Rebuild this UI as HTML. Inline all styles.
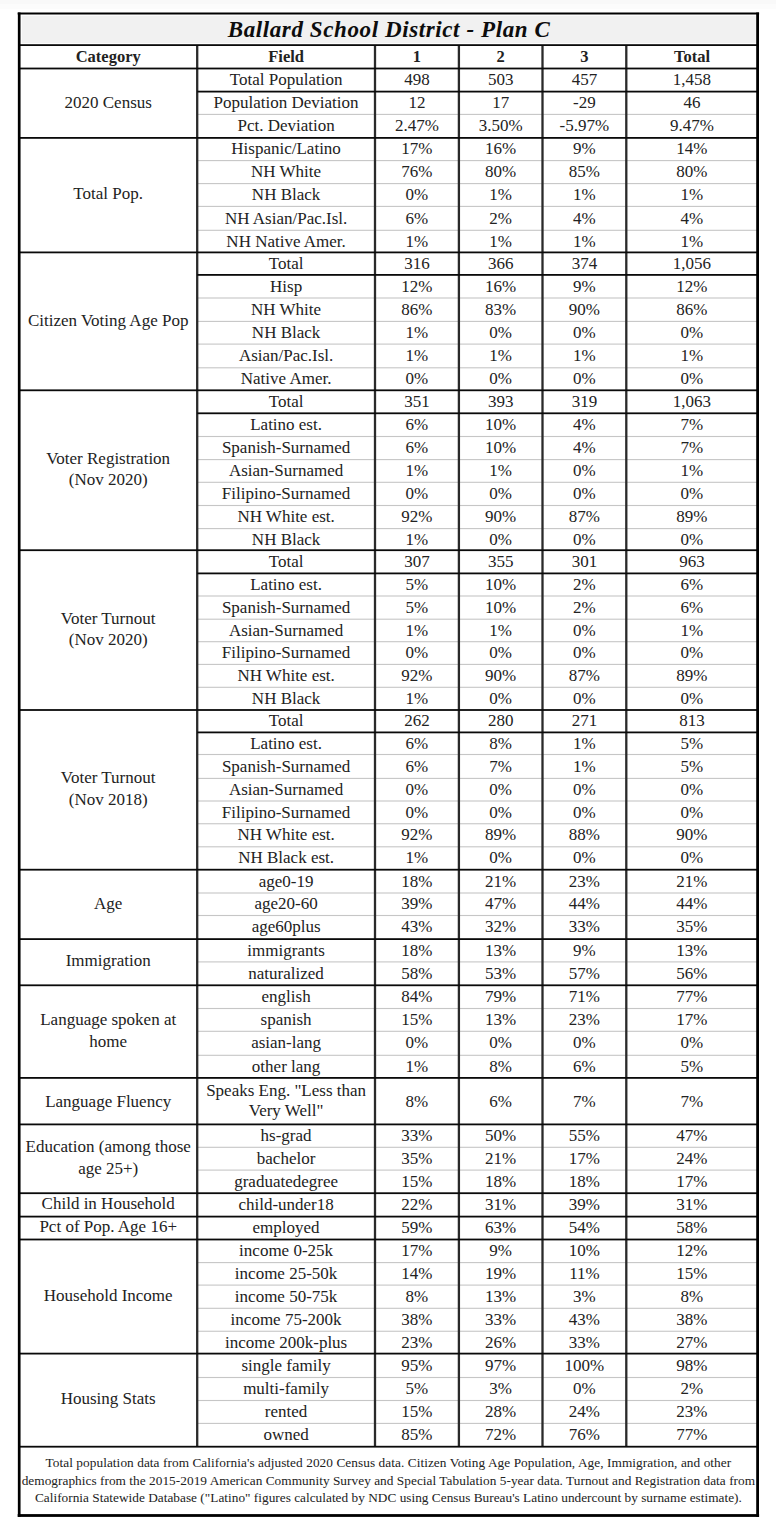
<!DOCTYPE html>
<html><head><meta charset="utf-8"><title>Ballard School District - Plan C</title>
<style>
html,body{margin:0;padding:0;background:#fff;}
body{width:776px;height:1536px;position:relative;overflow:hidden;font-family:"Liberation Serif",serif;color:#222;}
svg{position:absolute;left:0;top:0;}
.t{position:absolute;text-align:center;white-space:nowrap;font-size:17px;line-height:21px;height:21px;}
.t.b{font-weight:bold;font-size:16.5px;}
.t.f{font-size:13.3px;line-height:17px;height:17px;}
.title{position:absolute;left:0;width:777px;text-align:center;top:16px;height:27px;font-size:23px;line-height:27px;letter-spacing:0.6px;padding-left:0.6px;font-weight:bold;font-style:italic;white-space:nowrap;color:#0d0d0d;}
</style></head>
<body>
<svg width="776" height="1536" viewBox="0 0 776 1536">
<rect x="0" y="0" width="776" height="4" fill="#f9f9f9"/>
<rect x="0" y="4" width="776" height="5" fill="#fcfcfc"/>
<rect x="21.8" y="15.8" width="734.0" height="27.4" fill="#f1f1f1"/>
<rect x="197.20" y="113.85" width="560.40" height="1.1" fill="#c6c6c6"/>
<rect x="197.20" y="160.05" width="560.40" height="1.1" fill="#c6c6c6"/>
<rect x="197.20" y="183.05" width="560.40" height="1.1" fill="#c6c6c6"/>
<rect x="197.20" y="205.85" width="560.40" height="1.1" fill="#c6c6c6"/>
<rect x="197.20" y="229.75" width="560.40" height="1.1" fill="#c6c6c6"/>
<rect x="197.20" y="297.45" width="560.40" height="1.1" fill="#c6c6c6"/>
<rect x="197.20" y="320.85" width="560.40" height="1.1" fill="#c6c6c6"/>
<rect x="197.20" y="343.55" width="560.40" height="1.1" fill="#c6c6c6"/>
<rect x="197.20" y="367.25" width="560.40" height="1.1" fill="#c6c6c6"/>
<rect x="197.20" y="435.95" width="560.40" height="1.1" fill="#c6c6c6"/>
<rect x="197.20" y="459.05" width="560.40" height="1.1" fill="#c6c6c6"/>
<rect x="197.20" y="481.75" width="560.40" height="1.1" fill="#c6c6c6"/>
<rect x="197.20" y="504.95" width="560.40" height="1.1" fill="#c6c6c6"/>
<rect x="197.20" y="528.05" width="560.40" height="1.1" fill="#c6c6c6"/>
<rect x="197.20" y="595.45" width="560.40" height="1.1" fill="#c6c6c6"/>
<rect x="197.20" y="618.65" width="560.40" height="1.1" fill="#c6c6c6"/>
<rect x="197.20" y="641.15" width="560.40" height="1.1" fill="#c6c6c6"/>
<rect x="197.20" y="663.85" width="560.40" height="1.1" fill="#c6c6c6"/>
<rect x="197.20" y="686.75" width="560.40" height="1.1" fill="#c6c6c6"/>
<rect x="197.20" y="753.95" width="560.40" height="1.1" fill="#c6c6c6"/>
<rect x="197.20" y="777.85" width="560.40" height="1.1" fill="#c6c6c6"/>
<rect x="197.20" y="800.45" width="560.40" height="1.1" fill="#c6c6c6"/>
<rect x="197.20" y="823.20" width="560.40" height="1.1" fill="#c6c6c6"/>
<rect x="197.20" y="846.25" width="560.40" height="1.1" fill="#c6c6c6"/>
<rect x="197.20" y="892.45" width="560.40" height="1.1" fill="#c6c6c6"/>
<rect x="197.20" y="914.95" width="560.40" height="1.1" fill="#c6c6c6"/>
<rect x="197.20" y="961.35" width="560.40" height="1.1" fill="#c6c6c6"/>
<rect x="197.20" y="1007.95" width="560.40" height="1.1" fill="#c6c6c6"/>
<rect x="197.20" y="1030.75" width="560.40" height="1.1" fill="#c6c6c6"/>
<rect x="197.20" y="1054.75" width="560.40" height="1.1" fill="#c6c6c6"/>
<rect x="197.20" y="1146.75" width="560.40" height="1.1" fill="#c6c6c6"/>
<rect x="197.20" y="1169.55" width="560.40" height="1.1" fill="#c6c6c6"/>
<rect x="197.20" y="1262.05" width="560.40" height="1.1" fill="#c6c6c6"/>
<rect x="197.20" y="1284.55" width="560.40" height="1.1" fill="#c6c6c6"/>
<rect x="197.20" y="1307.75" width="560.40" height="1.1" fill="#c6c6c6"/>
<rect x="197.20" y="1330.70" width="560.40" height="1.1" fill="#c6c6c6"/>
<rect x="197.20" y="1376.95" width="560.40" height="1.1" fill="#c6c6c6"/>
<rect x="197.20" y="1399.95" width="560.40" height="1.1" fill="#c6c6c6"/>
<rect x="197.20" y="1422.85" width="560.40" height="1.1" fill="#c6c6c6"/>
<rect x="196.05" y="45.10" width="2.3" height="1401.60" fill="#2a2a2a"/>
<rect x="373.85" y="45.10" width="2.3" height="1401.60" fill="#2a2a2a"/>
<rect x="457.75" y="45.10" width="2.3" height="1401.60" fill="#2a2a2a"/>
<rect x="541.35" y="45.10" width="2.3" height="1401.60" fill="#2a2a2a"/>
<rect x="625.15" y="45.10" width="2.3" height="1401.60" fill="#2a2a2a"/>
<rect x="19.20" y="44.20" width="738.40" height="1.8" fill="#0a0a0a"/>
<rect x="19.20" y="67.60" width="738.40" height="1.8" fill="#0a0a0a"/>
<rect x="197.20" y="90.70" width="560.40" height="1.8" fill="#0a0a0a"/>
<rect x="19.20" y="137.00" width="738.40" height="1.8" fill="#0a0a0a"/>
<rect x="19.20" y="251.50" width="738.40" height="1.8" fill="#0a0a0a"/>
<rect x="197.20" y="274.00" width="560.40" height="1.8" fill="#0a0a0a"/>
<rect x="19.20" y="389.40" width="738.40" height="1.8" fill="#0a0a0a"/>
<rect x="197.20" y="412.40" width="560.40" height="1.8" fill="#0a0a0a"/>
<rect x="19.20" y="549.30" width="738.40" height="1.8" fill="#0a0a0a"/>
<rect x="197.20" y="572.50" width="560.40" height="1.8" fill="#0a0a0a"/>
<rect x="19.20" y="709.10" width="738.40" height="1.8" fill="#0a0a0a"/>
<rect x="197.20" y="731.50" width="560.40" height="1.8" fill="#0a0a0a"/>
<rect x="19.20" y="868.80" width="738.40" height="1.8" fill="#0a0a0a"/>
<rect x="19.20" y="938.20" width="738.40" height="1.8" fill="#0a0a0a"/>
<rect x="19.20" y="984.40" width="738.40" height="1.8" fill="#0a0a0a"/>
<rect x="19.20" y="1077.00" width="738.40" height="1.8" fill="#0a0a0a"/>
<rect x="19.20" y="1123.50" width="738.40" height="1.8" fill="#0a0a0a"/>
<rect x="19.20" y="1192.30" width="738.40" height="1.8" fill="#0a0a0a"/>
<rect x="19.20" y="1215.70" width="738.40" height="1.8" fill="#0a0a0a"/>
<rect x="19.20" y="1238.60" width="738.40" height="1.8" fill="#0a0a0a"/>
<rect x="19.20" y="1352.70" width="738.40" height="1.8" fill="#0a0a0a"/>
<rect x="19.20" y="1445.80" width="738.40" height="1.8" fill="#0a0a0a"/>
<rect x="17.70" y="12.50" width="741.40" height="2.0" fill="#000"/>
<rect x="17.70" y="1514.10" width="741.40" height="2.8" fill="#000"/>
<rect x="17.85" y="12.50" width="2.7" height="1504.40" fill="#000"/>
<rect x="756.20" y="12.50" width="2.8" height="1504.40" fill="#000"/>
</svg>
<div class="t" style="left:186.10px;top:69px;width:200px">Total Population</div>
<div class="t" style="left:316.95px;top:69px;width:200px">498</div>
<div class="t" style="left:400.70px;top:69px;width:200px">503</div>
<div class="t" style="left:484.40px;top:69px;width:200px">457</div>
<div class="t" style="left:591.95px;top:69px;width:200px">1,458</div>
<div class="t" style="left:186.10px;top:92px;width:200px">Population Deviation</div>
<div class="t" style="left:316.95px;top:92px;width:200px">12</div>
<div class="t" style="left:400.70px;top:92px;width:200px">17</div>
<div class="t" style="left:484.40px;top:92px;width:200px">-29</div>
<div class="t" style="left:591.95px;top:92px;width:200px">46</div>
<div class="t" style="left:186.10px;top:115px;width:200px">Pct. Deviation</div>
<div class="t" style="left:316.95px;top:115px;width:200px">2.47%</div>
<div class="t" style="left:400.70px;top:115px;width:200px">3.50%</div>
<div class="t" style="left:484.40px;top:115px;width:200px">-5.97%</div>
<div class="t" style="left:591.95px;top:115px;width:200px">9.47%</div>
<div class="t" style="left:8.20px;top:92px;width:200px">2020 Census</div>
<div class="t" style="left:186.10px;top:138px;width:200px">Hispanic/Latino</div>
<div class="t" style="left:316.95px;top:138px;width:200px">17%</div>
<div class="t" style="left:400.70px;top:138px;width:200px">16%</div>
<div class="t" style="left:484.40px;top:138px;width:200px">9%</div>
<div class="t" style="left:591.95px;top:138px;width:200px">14%</div>
<div class="t" style="left:186.10px;top:161px;width:200px">NH White</div>
<div class="t" style="left:316.95px;top:161px;width:200px">76%</div>
<div class="t" style="left:400.70px;top:161px;width:200px">80%</div>
<div class="t" style="left:484.40px;top:161px;width:200px">85%</div>
<div class="t" style="left:591.95px;top:161px;width:200px">80%</div>
<div class="t" style="left:186.10px;top:184px;width:200px">NH Black</div>
<div class="t" style="left:316.95px;top:184px;width:200px">0%</div>
<div class="t" style="left:400.70px;top:184px;width:200px">1%</div>
<div class="t" style="left:484.40px;top:184px;width:200px">1%</div>
<div class="t" style="left:591.95px;top:184px;width:200px">1%</div>
<div class="t" style="left:186.10px;top:208px;width:200px">NH Asian/Pac.Isl.</div>
<div class="t" style="left:316.95px;top:208px;width:200px">6%</div>
<div class="t" style="left:400.70px;top:208px;width:200px">2%</div>
<div class="t" style="left:484.40px;top:208px;width:200px">4%</div>
<div class="t" style="left:591.95px;top:208px;width:200px">4%</div>
<div class="t" style="left:186.10px;top:231px;width:200px">NH Native Amer.</div>
<div class="t" style="left:316.95px;top:231px;width:200px">1%</div>
<div class="t" style="left:400.70px;top:231px;width:200px">1%</div>
<div class="t" style="left:484.40px;top:231px;width:200px">1%</div>
<div class="t" style="left:591.95px;top:231px;width:200px">1%</div>
<div class="t" style="left:8.20px;top:183px;width:200px">Total Pop.</div>
<div class="t" style="left:186.10px;top:253px;width:200px">Total</div>
<div class="t" style="left:316.95px;top:253px;width:200px">316</div>
<div class="t" style="left:400.70px;top:253px;width:200px">366</div>
<div class="t" style="left:484.40px;top:253px;width:200px">374</div>
<div class="t" style="left:591.95px;top:253px;width:200px">1,056</div>
<div class="t" style="left:186.10px;top:276px;width:200px">Hisp</div>
<div class="t" style="left:316.95px;top:276px;width:200px">12%</div>
<div class="t" style="left:400.70px;top:276px;width:200px">16%</div>
<div class="t" style="left:484.40px;top:276px;width:200px">9%</div>
<div class="t" style="left:591.95px;top:276px;width:200px">12%</div>
<div class="t" style="left:186.10px;top:299px;width:200px">NH White</div>
<div class="t" style="left:316.95px;top:299px;width:200px">86%</div>
<div class="t" style="left:400.70px;top:299px;width:200px">83%</div>
<div class="t" style="left:484.40px;top:299px;width:200px">90%</div>
<div class="t" style="left:591.95px;top:299px;width:200px">86%</div>
<div class="t" style="left:186.10px;top:322px;width:200px">NH Black</div>
<div class="t" style="left:316.95px;top:322px;width:200px">1%</div>
<div class="t" style="left:400.70px;top:322px;width:200px">0%</div>
<div class="t" style="left:484.40px;top:322px;width:200px">0%</div>
<div class="t" style="left:591.95px;top:322px;width:200px">0%</div>
<div class="t" style="left:186.10px;top:345px;width:200px">Asian/Pac.Isl.</div>
<div class="t" style="left:316.95px;top:345px;width:200px">1%</div>
<div class="t" style="left:400.70px;top:345px;width:200px">1%</div>
<div class="t" style="left:484.40px;top:345px;width:200px">1%</div>
<div class="t" style="left:591.95px;top:345px;width:200px">1%</div>
<div class="t" style="left:186.10px;top:368px;width:200px">Native Amer.</div>
<div class="t" style="left:316.95px;top:368px;width:200px">0%</div>
<div class="t" style="left:400.70px;top:368px;width:200px">0%</div>
<div class="t" style="left:484.40px;top:368px;width:200px">0%</div>
<div class="t" style="left:591.95px;top:368px;width:200px">0%</div>
<div class="t" style="left:8.20px;top:310px;width:200px">Citizen Voting Age Pop</div>
<div class="t" style="left:186.10px;top:391px;width:200px">Total</div>
<div class="t" style="left:316.95px;top:391px;width:200px">351</div>
<div class="t" style="left:400.70px;top:391px;width:200px">393</div>
<div class="t" style="left:484.40px;top:391px;width:200px">319</div>
<div class="t" style="left:591.95px;top:391px;width:200px">1,063</div>
<div class="t" style="left:186.10px;top:414px;width:200px">Latino est.</div>
<div class="t" style="left:316.95px;top:414px;width:200px">6%</div>
<div class="t" style="left:400.70px;top:414px;width:200px">10%</div>
<div class="t" style="left:484.40px;top:414px;width:200px">4%</div>
<div class="t" style="left:591.95px;top:414px;width:200px">7%</div>
<div class="t" style="left:186.10px;top:437px;width:200px">Spanish-Surnamed</div>
<div class="t" style="left:316.95px;top:437px;width:200px">6%</div>
<div class="t" style="left:400.70px;top:437px;width:200px">10%</div>
<div class="t" style="left:484.40px;top:437px;width:200px">4%</div>
<div class="t" style="left:591.95px;top:437px;width:200px">7%</div>
<div class="t" style="left:186.10px;top:460px;width:200px">Asian-Surnamed</div>
<div class="t" style="left:316.95px;top:460px;width:200px">1%</div>
<div class="t" style="left:400.70px;top:460px;width:200px">1%</div>
<div class="t" style="left:484.40px;top:460px;width:200px">0%</div>
<div class="t" style="left:591.95px;top:460px;width:200px">1%</div>
<div class="t" style="left:186.10px;top:483px;width:200px">Filipino-Surnamed</div>
<div class="t" style="left:316.95px;top:483px;width:200px">0%</div>
<div class="t" style="left:400.70px;top:483px;width:200px">0%</div>
<div class="t" style="left:484.40px;top:483px;width:200px">0%</div>
<div class="t" style="left:591.95px;top:483px;width:200px">0%</div>
<div class="t" style="left:186.10px;top:506px;width:200px">NH White est.</div>
<div class="t" style="left:316.95px;top:506px;width:200px">92%</div>
<div class="t" style="left:400.70px;top:506px;width:200px">90%</div>
<div class="t" style="left:484.40px;top:506px;width:200px">87%</div>
<div class="t" style="left:591.95px;top:506px;width:200px">89%</div>
<div class="t" style="left:186.10px;top:529px;width:200px">NH Black</div>
<div class="t" style="left:316.95px;top:529px;width:200px">1%</div>
<div class="t" style="left:400.70px;top:529px;width:200px">0%</div>
<div class="t" style="left:484.40px;top:529px;width:200px">0%</div>
<div class="t" style="left:591.95px;top:529px;width:200px">0%</div>
<div class="t" style="left:8.20px;top:448px;width:200px">Voter Registration</div>
<div class="t" style="left:8.20px;top:469px;width:200px">(Nov 2020)</div>
<div class="t" style="left:186.10px;top:551px;width:200px">Total</div>
<div class="t" style="left:316.95px;top:551px;width:200px">307</div>
<div class="t" style="left:400.70px;top:551px;width:200px">355</div>
<div class="t" style="left:484.40px;top:551px;width:200px">301</div>
<div class="t" style="left:591.95px;top:551px;width:200px">963</div>
<div class="t" style="left:186.10px;top:574px;width:200px">Latino est.</div>
<div class="t" style="left:316.95px;top:574px;width:200px">5%</div>
<div class="t" style="left:400.70px;top:574px;width:200px">10%</div>
<div class="t" style="left:484.40px;top:574px;width:200px">2%</div>
<div class="t" style="left:591.95px;top:574px;width:200px">6%</div>
<div class="t" style="left:186.10px;top:597px;width:200px">Spanish-Surnamed</div>
<div class="t" style="left:316.95px;top:597px;width:200px">5%</div>
<div class="t" style="left:400.70px;top:597px;width:200px">10%</div>
<div class="t" style="left:484.40px;top:597px;width:200px">2%</div>
<div class="t" style="left:591.95px;top:597px;width:200px">6%</div>
<div class="t" style="left:186.10px;top:620px;width:200px">Asian-Surnamed</div>
<div class="t" style="left:316.95px;top:620px;width:200px">1%</div>
<div class="t" style="left:400.70px;top:620px;width:200px">1%</div>
<div class="t" style="left:484.40px;top:620px;width:200px">0%</div>
<div class="t" style="left:591.95px;top:620px;width:200px">1%</div>
<div class="t" style="left:186.10px;top:642px;width:200px">Filipino-Surnamed</div>
<div class="t" style="left:316.95px;top:642px;width:200px">0%</div>
<div class="t" style="left:400.70px;top:642px;width:200px">0%</div>
<div class="t" style="left:484.40px;top:642px;width:200px">0%</div>
<div class="t" style="left:591.95px;top:642px;width:200px">0%</div>
<div class="t" style="left:186.10px;top:665px;width:200px">NH White est.</div>
<div class="t" style="left:316.95px;top:665px;width:200px">92%</div>
<div class="t" style="left:400.70px;top:665px;width:200px">90%</div>
<div class="t" style="left:484.40px;top:665px;width:200px">87%</div>
<div class="t" style="left:591.95px;top:665px;width:200px">89%</div>
<div class="t" style="left:186.10px;top:688px;width:200px">NH Black</div>
<div class="t" style="left:316.95px;top:688px;width:200px">1%</div>
<div class="t" style="left:400.70px;top:688px;width:200px">0%</div>
<div class="t" style="left:484.40px;top:688px;width:200px">0%</div>
<div class="t" style="left:591.95px;top:688px;width:200px">0%</div>
<div class="t" style="left:8.20px;top:608px;width:200px">Voter Turnout</div>
<div class="t" style="left:8.20px;top:629px;width:200px">(Nov 2020)</div>
<div class="t" style="left:186.10px;top:710px;width:200px">Total</div>
<div class="t" style="left:316.95px;top:710px;width:200px">262</div>
<div class="t" style="left:400.70px;top:710px;width:200px">280</div>
<div class="t" style="left:484.40px;top:710px;width:200px">271</div>
<div class="t" style="left:591.95px;top:710px;width:200px">813</div>
<div class="t" style="left:186.10px;top:733px;width:200px">Latino est.</div>
<div class="t" style="left:316.95px;top:733px;width:200px">6%</div>
<div class="t" style="left:400.70px;top:733px;width:200px">8%</div>
<div class="t" style="left:484.40px;top:733px;width:200px">1%</div>
<div class="t" style="left:591.95px;top:733px;width:200px">5%</div>
<div class="t" style="left:186.10px;top:756px;width:200px">Spanish-Surnamed</div>
<div class="t" style="left:316.95px;top:756px;width:200px">6%</div>
<div class="t" style="left:400.70px;top:756px;width:200px">7%</div>
<div class="t" style="left:484.40px;top:756px;width:200px">1%</div>
<div class="t" style="left:591.95px;top:756px;width:200px">5%</div>
<div class="t" style="left:186.10px;top:779px;width:200px">Asian-Surnamed</div>
<div class="t" style="left:316.95px;top:779px;width:200px">0%</div>
<div class="t" style="left:400.70px;top:779px;width:200px">0%</div>
<div class="t" style="left:484.40px;top:779px;width:200px">0%</div>
<div class="t" style="left:591.95px;top:779px;width:200px">0%</div>
<div class="t" style="left:186.10px;top:802px;width:200px">Filipino-Surnamed</div>
<div class="t" style="left:316.95px;top:802px;width:200px">0%</div>
<div class="t" style="left:400.70px;top:802px;width:200px">0%</div>
<div class="t" style="left:484.40px;top:802px;width:200px">0%</div>
<div class="t" style="left:591.95px;top:802px;width:200px">0%</div>
<div class="t" style="left:186.10px;top:824px;width:200px">NH White est.</div>
<div class="t" style="left:316.95px;top:824px;width:200px">92%</div>
<div class="t" style="left:400.70px;top:824px;width:200px">89%</div>
<div class="t" style="left:484.40px;top:824px;width:200px">88%</div>
<div class="t" style="left:591.95px;top:824px;width:200px">90%</div>
<div class="t" style="left:186.10px;top:847px;width:200px">NH Black est.</div>
<div class="t" style="left:316.95px;top:847px;width:200px">1%</div>
<div class="t" style="left:400.70px;top:847px;width:200px">0%</div>
<div class="t" style="left:484.40px;top:847px;width:200px">0%</div>
<div class="t" style="left:591.95px;top:847px;width:200px">0%</div>
<div class="t" style="left:8.20px;top:767px;width:200px">Voter Turnout</div>
<div class="t" style="left:8.20px;top:789px;width:200px">(Nov 2018)</div>
<div class="t" style="left:186.10px;top:871px;width:200px">age0-19</div>
<div class="t" style="left:316.95px;top:871px;width:200px">18%</div>
<div class="t" style="left:400.70px;top:871px;width:200px">21%</div>
<div class="t" style="left:484.40px;top:871px;width:200px">23%</div>
<div class="t" style="left:591.95px;top:871px;width:200px">21%</div>
<div class="t" style="left:186.10px;top:893px;width:200px">age20-60</div>
<div class="t" style="left:316.95px;top:893px;width:200px">39%</div>
<div class="t" style="left:400.70px;top:893px;width:200px">47%</div>
<div class="t" style="left:484.40px;top:893px;width:200px">44%</div>
<div class="t" style="left:591.95px;top:893px;width:200px">44%</div>
<div class="t" style="left:186.10px;top:916px;width:200px">age60plus</div>
<div class="t" style="left:316.95px;top:916px;width:200px">43%</div>
<div class="t" style="left:400.70px;top:916px;width:200px">32%</div>
<div class="t" style="left:484.40px;top:916px;width:200px">33%</div>
<div class="t" style="left:591.95px;top:916px;width:200px">35%</div>
<div class="t" style="left:8.20px;top:893px;width:200px">Age</div>
<div class="t" style="left:186.10px;top:940px;width:200px">immigrants</div>
<div class="t" style="left:316.95px;top:940px;width:200px">18%</div>
<div class="t" style="left:400.70px;top:940px;width:200px">13%</div>
<div class="t" style="left:484.40px;top:940px;width:200px">9%</div>
<div class="t" style="left:591.95px;top:940px;width:200px">13%</div>
<div class="t" style="left:186.10px;top:963px;width:200px">naturalized</div>
<div class="t" style="left:316.95px;top:963px;width:200px">58%</div>
<div class="t" style="left:400.70px;top:963px;width:200px">53%</div>
<div class="t" style="left:484.40px;top:963px;width:200px">57%</div>
<div class="t" style="left:591.95px;top:963px;width:200px">56%</div>
<div class="t" style="left:8.20px;top:950px;width:200px">Immigration</div>
<div class="t" style="left:186.10px;top:986px;width:200px">english</div>
<div class="t" style="left:316.95px;top:986px;width:200px">84%</div>
<div class="t" style="left:400.70px;top:986px;width:200px">79%</div>
<div class="t" style="left:484.40px;top:986px;width:200px">71%</div>
<div class="t" style="left:591.95px;top:986px;width:200px">77%</div>
<div class="t" style="left:186.10px;top:1009px;width:200px">spanish</div>
<div class="t" style="left:316.95px;top:1009px;width:200px">15%</div>
<div class="t" style="left:400.70px;top:1009px;width:200px">13%</div>
<div class="t" style="left:484.40px;top:1009px;width:200px">23%</div>
<div class="t" style="left:591.95px;top:1009px;width:200px">17%</div>
<div class="t" style="left:186.10px;top:1032px;width:200px">asian-lang</div>
<div class="t" style="left:316.95px;top:1032px;width:200px">0%</div>
<div class="t" style="left:400.70px;top:1032px;width:200px">0%</div>
<div class="t" style="left:484.40px;top:1032px;width:200px">0%</div>
<div class="t" style="left:591.95px;top:1032px;width:200px">0%</div>
<div class="t" style="left:186.10px;top:1056px;width:200px">other lang</div>
<div class="t" style="left:316.95px;top:1056px;width:200px">1%</div>
<div class="t" style="left:400.70px;top:1056px;width:200px">8%</div>
<div class="t" style="left:484.40px;top:1056px;width:200px">6%</div>
<div class="t" style="left:591.95px;top:1056px;width:200px">5%</div>
<div class="t" style="left:8.20px;top:1009px;width:200px">Language spoken at</div>
<div class="t" style="left:8.20px;top:1031px;width:200px">home</div>
<div class="t" style="left:186.10px;top:1080px;width:200px">Speaks Eng. &quot;Less than</div>
<div class="t" style="left:186.10px;top:1100px;width:200px">Very Well&quot;</div>
<div class="t" style="left:316.95px;top:1091px;width:200px">8%</div>
<div class="t" style="left:400.70px;top:1091px;width:200px">6%</div>
<div class="t" style="left:484.40px;top:1091px;width:200px">7%</div>
<div class="t" style="left:591.95px;top:1091px;width:200px">7%</div>
<div class="t" style="left:8.20px;top:1091px;width:200px">Language Fluency</div>
<div class="t" style="left:186.10px;top:1125px;width:200px">hs-grad</div>
<div class="t" style="left:316.95px;top:1125px;width:200px">33%</div>
<div class="t" style="left:400.70px;top:1125px;width:200px">50%</div>
<div class="t" style="left:484.40px;top:1125px;width:200px">55%</div>
<div class="t" style="left:591.95px;top:1125px;width:200px">47%</div>
<div class="t" style="left:186.10px;top:1148px;width:200px">bachelor</div>
<div class="t" style="left:316.95px;top:1148px;width:200px">35%</div>
<div class="t" style="left:400.70px;top:1148px;width:200px">21%</div>
<div class="t" style="left:484.40px;top:1148px;width:200px">17%</div>
<div class="t" style="left:591.95px;top:1148px;width:200px">24%</div>
<div class="t" style="left:186.10px;top:1171px;width:200px">graduatedegree</div>
<div class="t" style="left:316.95px;top:1171px;width:200px">15%</div>
<div class="t" style="left:400.70px;top:1171px;width:200px">18%</div>
<div class="t" style="left:484.40px;top:1171px;width:200px">18%</div>
<div class="t" style="left:591.95px;top:1171px;width:200px">17%</div>
<div class="t" style="left:8.20px;top:1136px;width:200px">Education (among those</div>
<div class="t" style="left:8.20px;top:1158px;width:200px">age 25+)</div>
<div class="t" style="left:186.10px;top:1194px;width:200px">child-under18</div>
<div class="t" style="left:316.95px;top:1194px;width:200px">22%</div>
<div class="t" style="left:400.70px;top:1194px;width:200px">31%</div>
<div class="t" style="left:484.40px;top:1194px;width:200px">39%</div>
<div class="t" style="left:591.95px;top:1194px;width:200px">31%</div>
<div class="t" style="left:8.20px;top:1193px;width:200px">Child in Household</div>
<div class="t" style="left:186.10px;top:1217px;width:200px">employed</div>
<div class="t" style="left:316.95px;top:1217px;width:200px">59%</div>
<div class="t" style="left:400.70px;top:1217px;width:200px">63%</div>
<div class="t" style="left:484.40px;top:1217px;width:200px">54%</div>
<div class="t" style="left:591.95px;top:1217px;width:200px">58%</div>
<div class="t" style="left:8.20px;top:1216px;width:200px">Pct of Pop. Age 16+</div>
<div class="t" style="left:186.10px;top:1240px;width:200px">income 0-25k</div>
<div class="t" style="left:316.95px;top:1240px;width:200px">17%</div>
<div class="t" style="left:400.70px;top:1240px;width:200px">9%</div>
<div class="t" style="left:484.40px;top:1240px;width:200px">10%</div>
<div class="t" style="left:591.95px;top:1240px;width:200px">12%</div>
<div class="t" style="left:186.10px;top:1263px;width:200px">income 25-50k</div>
<div class="t" style="left:316.95px;top:1263px;width:200px">14%</div>
<div class="t" style="left:400.70px;top:1263px;width:200px">19%</div>
<div class="t" style="left:484.40px;top:1263px;width:200px">11%</div>
<div class="t" style="left:591.95px;top:1263px;width:200px">15%</div>
<div class="t" style="left:186.10px;top:1286px;width:200px">income 50-75k</div>
<div class="t" style="left:316.95px;top:1286px;width:200px">8%</div>
<div class="t" style="left:400.70px;top:1286px;width:200px">13%</div>
<div class="t" style="left:484.40px;top:1286px;width:200px">3%</div>
<div class="t" style="left:591.95px;top:1286px;width:200px">8%</div>
<div class="t" style="left:186.10px;top:1309px;width:200px">income 75-200k</div>
<div class="t" style="left:316.95px;top:1309px;width:200px">38%</div>
<div class="t" style="left:400.70px;top:1309px;width:200px">33%</div>
<div class="t" style="left:484.40px;top:1309px;width:200px">43%</div>
<div class="t" style="left:591.95px;top:1309px;width:200px">38%</div>
<div class="t" style="left:186.10px;top:1332px;width:200px">income 200k-plus</div>
<div class="t" style="left:316.95px;top:1332px;width:200px">23%</div>
<div class="t" style="left:400.70px;top:1332px;width:200px">26%</div>
<div class="t" style="left:484.40px;top:1332px;width:200px">33%</div>
<div class="t" style="left:591.95px;top:1332px;width:200px">27%</div>
<div class="t" style="left:8.20px;top:1285px;width:200px">Household Income</div>
<div class="t" style="left:186.10px;top:1355px;width:200px">single family</div>
<div class="t" style="left:316.95px;top:1355px;width:200px">95%</div>
<div class="t" style="left:400.70px;top:1355px;width:200px">97%</div>
<div class="t" style="left:484.40px;top:1355px;width:200px">100%</div>
<div class="t" style="left:591.95px;top:1355px;width:200px">98%</div>
<div class="t" style="left:186.10px;top:1378px;width:200px">multi-family</div>
<div class="t" style="left:316.95px;top:1378px;width:200px">5%</div>
<div class="t" style="left:400.70px;top:1378px;width:200px">3%</div>
<div class="t" style="left:484.40px;top:1378px;width:200px">0%</div>
<div class="t" style="left:591.95px;top:1378px;width:200px">2%</div>
<div class="t" style="left:186.10px;top:1401px;width:200px">rented</div>
<div class="t" style="left:316.95px;top:1401px;width:200px">15%</div>
<div class="t" style="left:400.70px;top:1401px;width:200px">28%</div>
<div class="t" style="left:484.40px;top:1401px;width:200px">24%</div>
<div class="t" style="left:591.95px;top:1401px;width:200px">23%</div>
<div class="t" style="left:186.10px;top:1424px;width:200px">owned</div>
<div class="t" style="left:316.95px;top:1424px;width:200px">85%</div>
<div class="t" style="left:400.70px;top:1424px;width:200px">72%</div>
<div class="t" style="left:484.40px;top:1424px;width:200px">76%</div>
<div class="t" style="left:591.95px;top:1424px;width:200px">77%</div>
<div class="t" style="left:8.20px;top:1388px;width:200px">Housing Stats</div>
<div class="t b" style="left:8.20px;top:46px;width:200px">Category</div>
<div class="t b" style="left:186.10px;top:46px;width:200px">Field</div>
<div class="t b" style="left:316.95px;top:46px;width:200px">1</div>
<div class="t b" style="left:400.70px;top:46px;width:200px">2</div>
<div class="t b" style="left:484.40px;top:46px;width:200px">3</div>
<div class="t b" style="left:591.95px;top:46px;width:200px">Total</div>
<div class="title">Ballard School District - Plan C</div>
<div class="t f" style="left:8.40px;top:1454px;width:760px;letter-spacing:0.06px">Total population data from California's adjusted 2020 Census data. Citizen Voting Age Population, Age, Immigration, and other</div>
<div class="t f" style="left:8.40px;top:1472px;width:760px;letter-spacing:0.036px">demographics from the 2015-2019 American Community Survey and Special Tabulation 5-year data. Turnout and Registration data from</div>
<div class="t f" style="left:8.40px;top:1489px;width:760px;letter-spacing:0.013px">California Statewide Database (&quot;Latino&quot; figures calculated by NDC using Census Bureau's Latino undercount by surname estimate).</div>
</body></html>
